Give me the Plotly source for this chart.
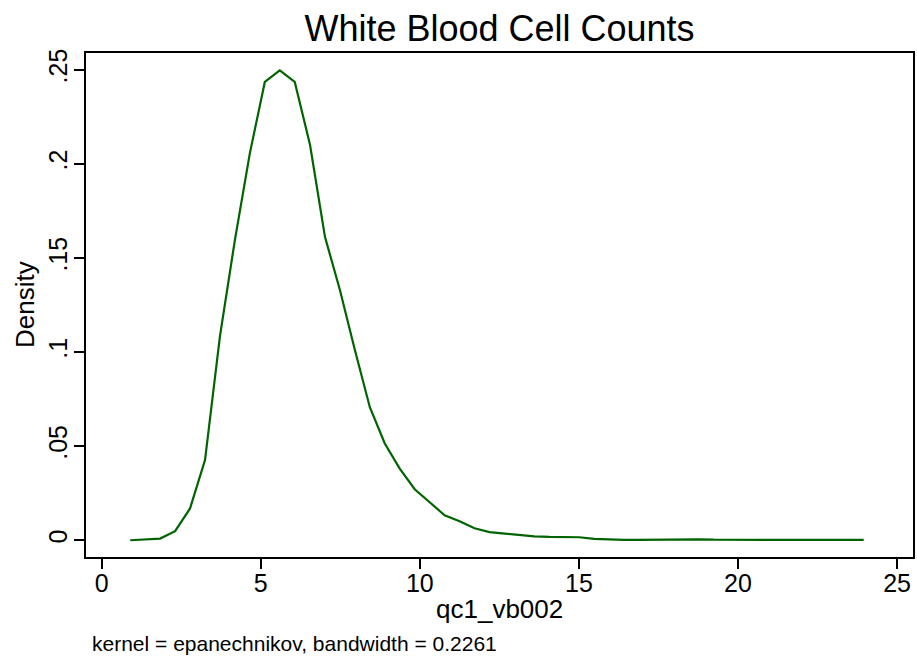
import plotly.graph_objects as go

# Kernel density estimate (50 evaluation points)
wbc_x = [0.90, 1.37, 1.84, 2.31, 2.78, 3.25, 3.72, 4.19, 4.66, 5.13,
         5.60, 6.07, 6.55, 7.02, 7.49, 7.96, 8.43, 8.90, 9.37, 9.84,
         10.31, 10.78, 11.25, 11.72, 12.19, 12.66, 13.13, 13.60, 14.07, 14.54,
         15.01, 15.48, 15.95, 16.42, 16.89, 17.36, 17.83, 18.30, 18.77, 19.24,
         19.71, 20.18, 20.65, 21.12, 21.59, 22.06, 22.54, 23.01, 23.48, 23.95]
density = [0.0000, 0.0004, 0.0009, 0.0048, 0.0169, 0.0426, 0.1085, 0.1596, 0.2057, 0.2435,
           0.2496, 0.2435, 0.2101, 0.1612, 0.1330, 0.1011, 0.0707, 0.0514, 0.0381, 0.0271,
           0.0202, 0.0133, 0.0101, 0.0064, 0.0043, 0.0036, 0.0027, 0.0021, 0.0018, 0.0017,
           0.0016, 0.0007, 0.0004, 0.0002, 0.0002, 0.0003, 0.0005, 0.0007, 0.0005, 0.0003,
           0.0002, 0.0002, 0.0002, 0.0002, 0.0002, 0.0002, 0.0002, 0.0002, 0.0002, 0.0002]

x_ticks = [0, 5, 10, 15, 20, 25]
x_tick_text = ["0", "5", "10", "15", "20", "25"]
y_ticks = [0, 0.05, 0.1, 0.15, 0.2, 0.25]
y_tick_text = ["0", ".05", ".1", ".15", ".2", ".25"]

title_text = "White Blood Cell Counts"
x_title = "qc1_vb002"
y_title = "Density"
note_text = "kernel = epanechnikov, bandwidth = 0.2261"

FONT = "Liberation Sans, Arial, sans-serif"

fig = go.Figure()
fig.add_trace(go.Scatter(x=wbc_x, y=density, mode="lines",
                         line=dict(color="#006400", width=2.2), showlegend=False,
                         hoverinfo="skip"))

W, H = 917, 660
ml, mr, mt, mb = 86, 2, 53, 103

fig.update_layout(
    width=W, height=H,
    margin=dict(l=ml, r=mr, t=mt, b=mb),
    paper_bgcolor="white", plot_bgcolor="white",
    font=dict(family=FONT, color="black"),
    title=dict(text=title_text, x=0.5, xref="paper", y=1 - 28 / H, yref="container",
               xanchor="center", yanchor="middle", font=dict(size=36, color="black")),
    xaxis=dict(range=[-0.49, 25.5], tickmode="array", tickvals=x_ticks, ticktext=x_tick_text,
               showgrid=False, zeroline=False, showline=True, linecolor="black", linewidth=2,
               mirror=True, ticks="outside", ticklen=10, tickwidth=1.5, tickcolor="black",
               ticklabelstandoff=-7,
               tickfont=dict(size=25, color="black")),
    yaxis=dict(range=[-0.0089, 0.2589], tickmode="array", tickvals=y_ticks, ticktext=y_tick_text,
               showgrid=False, zeroline=False, showline=True, linecolor="black", linewidth=2,
               mirror=True, ticks="outside", ticklen=10, tickwidth=1.5, tickcolor="black",
               tickangle=-90, ticklabelstandoff=-3,
               tickfont=dict(size=25, color="black")),
    annotations=[
        dict(text=x_title, xref="paper", yref="paper", x=0.5, y=0, yshift=-(609 - 557),
             xanchor="center", yanchor="middle", showarrow=False,
             font=dict(size=26, color="black")),
        dict(text=y_title, xref="paper", yref="paper", x=0, xshift=-(86 - 25), y=0.5,
             xanchor="center", yanchor="middle", textangle=-90, showarrow=False,
             font=dict(size=26, color="black")),
        dict(text=note_text, xref="paper", yref="paper", x=0, xshift=90 - 86, y=0,
             yshift=-(643 - 557), xanchor="left", yanchor="middle", showarrow=False,
             font=dict(size=21, color="black")),
    ],
)

fig.write_html("out.html")
